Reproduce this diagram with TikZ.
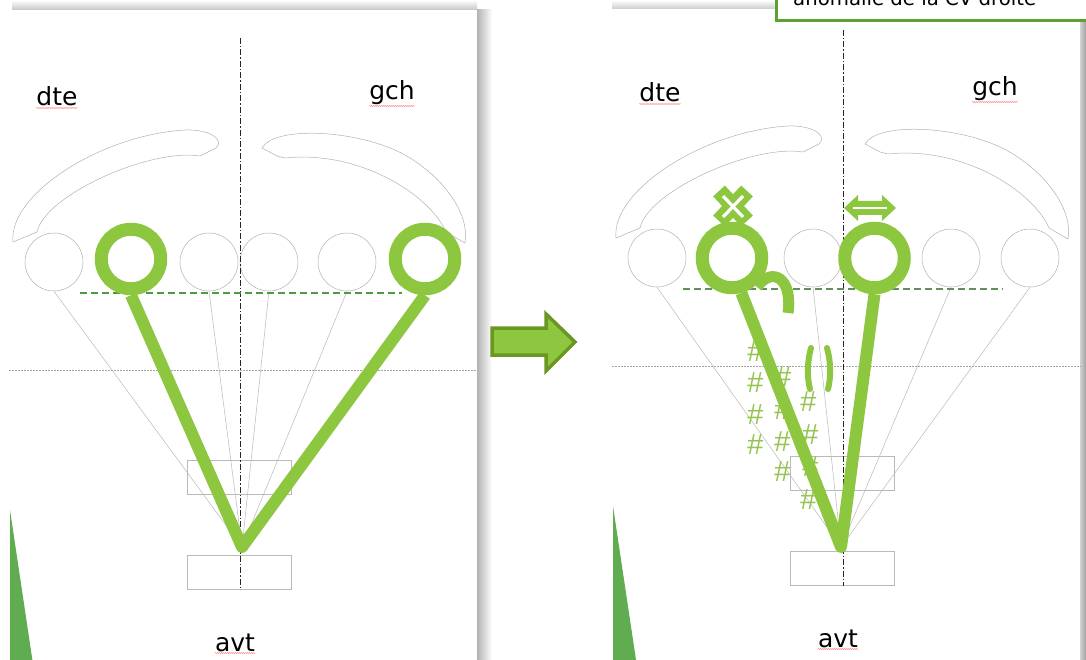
\documentclass[tikz,border=0pt]{standalone}
\usepackage{fontspec}
\setmainfont{DejaVu Sans}
\newfontfamily\hashfont{Liberation Sans}
\usetikzlibrary{decorations.pathmorphing}
\definecolor{lgreen}{RGB}{141,198,63}
\definecolor{dgreen}{RGB}{78,154,62}
\definecolor{trigreen}{RGB}{95,173,80}
\definecolor{arrowedge}{RGB}{106,150,34}
\definecolor{hashgreen}{RGB}{150,196,80}
\definecolor{boxgreen}{RGB}{93,161,48}
\definecolor{fangray}{RGB}{185,185,185}
\tikzset{
  thincirc/.style={circle, draw=gray!60, line width=0.5pt, minimum size=58pt, inner sep=0pt},
  ring/.style={circle, draw=lgreen, line width=13pt, minimum size=59.5pt, inner sep=0pt},
  fanline/.style={draw=fangray, line width=0.5pt},
  gstroke/.style={draw=lgreen, line width=12pt, line join=round},
  lbl/.style={font=\fontsize{25}{28}\selectfont, inner sep=0pt, anchor=base},
  axisline/.style={draw=gray!30!black, line width=0.8pt, dash pattern=on 6pt off 2pt on 1.5pt off 2pt},
  hdotted/.style={draw=gray!70, line width=0.6pt, dash pattern=on 1.5pt off 1.5pt},
  framebox/.style={draw=gray!55, line width=0.5pt},
  crescent/.style={draw=gray!60, line width=0.5pt},
  hashmark/.style={text=hashgreen, font=\hashfont\itshape\fontsize{29}{29}\selectfont, inner sep=0pt},
  spell/.style={draw=red!45, line width=0.5pt, decorate, decoration={snake, amplitude=0.5pt, segment length=2pt}},
  gdash/.style={line width=1.8pt, dash pattern=on 7pt off 4pt},
}
\newcommand\paneldecor[1]{%
  % crescents
  \draw[crescent] (13,242) .. controls (8,195) and (100,135) .. (185,130)
     .. controls (210,129) and (225,140) .. (216,148) -- (200,156)
     .. controls (150,148) and (45,195) .. (37,232) -- cycle;
  \draw[crescent] (262,148) .. controls (275,125) and (360,130) .. (405,155)
     .. controls (445,178) and (470,215) .. (465,243) -- (446,232)
     .. controls (430,195) and (360,150) .. (285,158) -- (277,156) -- cycle;
  % horizontal dotted line
  \draw[hdotted] (9,370) -- (478,370);
  % boxes
  \draw[framebox] (187,460) rectangle (291,494);
  \draw[framebox] (187,555) rectangle (291,589);
  % green wedge
  \fill[trigreen] (10,510) -- (10,664) -- (33,664) -- cycle;
  % labels
  \node[lbl] (#1dte) at (57,106) {dte};
  \node[lbl] (#1gch) at (392,100) {gch};
  \node[lbl] (#1avt) at (235,651) {avt};
  \draw[spell] ([yshift=-2pt]#1dte.base west) -- ([yshift=-2pt]#1dte.base east);
  \draw[spell] ([yshift=-6pt]#1gch.base west) -- ([yshift=-6pt]#1gch.base east);
  \draw[spell] ([yshift=-2pt]#1avt.base west) -- ([yshift=-2pt]#1avt.base east);
}
\begin{document}
\begin{tikzpicture}[x=1pt,y=-1pt]
\useasboundingbox (0,0) rectangle (1086,660);
\clip (0,0) rectangle (1086,660);
\fill[white] (0,0) rectangle (1086,660);

% ---------- page shadows ----------
\shade[top color=white, bottom color=gray!45] (12,0) rectangle (477,10);
\shade[left color=gray!60, right color=white] (477,10) rectangle (492,660);
\shade[top color=white, bottom color=gray!40] (612,0) rectangle (775,9);
\shade[left color=gray!35, right color=gray!75] (1080,22) rectangle (1086,660);

% ================= LEFT PANEL =================
\begin{scope}
  \paneldecor{L}
\end{scope}
\coordinate (apexL) at (242,547);
\node[thincirc] (cL1) at (54,262) {};
\node[thincirc] (cL3) at (209,262) {};
\node[thincirc] (cL4) at (269,262) {};
\node[thincirc] (cL5) at (347,262) {};
\foreach \c in {cL1,cL3,cL4,cL5} \draw[fanline] (\c.south) -- (apexL);
\draw[axisline] (240,38) -- (240,590);
\draw[dgreen, gdash] (80,293) -- (402,293);
\node[ring] (rL1) at (131,259) {};
\node[ring] (rL2) at (425,259) {};
\draw[gstroke] (rL1.south) -- (apexL) -- (rL2.south);

% ---------- middle arrow ----------
\draw[draw=arrowedge, fill=lgreen, line width=3.5pt, line join=miter]
  (492,328) -- (546,328) -- (546,314) -- (575,342) -- (546,371) -- (546,355) -- (492,355) -- cycle;

% ================= RIGHT PANEL =================
\begin{scope}[shift={(603,-4)}]
  \paneldecor{R}
\end{scope}
\coordinate (apexR) at (841,547);
\node[thincirc] (cR1) at (657,258) {};
\node[thincirc] (cR3) at (813,258) {};
\node[thincirc] (cR5) at (951,258) {};
\node[thincirc] (cR6) at (1030,258) {};
\foreach \c in {cR1,cR3,cR5,cR6} \draw[fanline] (\c.south) -- (apexR);
\draw[axisline] (843,30) -- (843,586);
\draw[gray!45!dgreen, gdash] (683,289) -- (1003,289);

% hash marks
\foreach \p [count=\i] in {(755,352),(755,383),(783,377),(808,402),(755,415),(782,410),
                           (810,435),(755,445),(782,442),(782,472),(810,467),(808,500)}
  \node[hashmark] (h\i) at \p {\#};

% parentheses marks
\draw[lgreen, line width=6pt, line cap=round] (811,348) .. controls (807,362) and (807,378) .. (810,389);
\draw[lgreen, line width=6pt, line cap=round] (827,348) .. controls (831,362) and (831,378) .. (828,389);

\node[ring] (rR1) at (732,258) {};
\node[ring] (rR2) at (874.5,258) {};
\draw[gstroke] (rR1.285) -- (apexR) -- (rR2.south);

% hook
\draw[lgreen, line width=11pt] (757,287) .. controls (772,266) and (793,278) .. (788,313);

% X mark above left ring
\draw[lgreen, line width=16pt] (719,191) -- (747,221) (747,191) -- (719,221);
\draw[white, line width=3.2pt] (723,196) -- (743,217) (743,196) -- (723,217);

% double arrow above right ring
\fill[lgreen] (844,208) -- (858,195) -- (858,201) -- (882,201) -- (882,195) -- (896,208)
  -- (882,221) -- (882,215) -- (858,215) -- (858,221) -- cycle;
\draw[white, line width=2.5pt] (853,208) -- (887,208);

% ---------- text box ----------
\node[draw=boxgreen, fill=white, line width=3pt, anchor=south west, minimum width=340pt,
      minimum height=45pt, inner sep=0pt] (box) at (775,22) {};
\node[font=\fontsize{19.7}{22}\selectfont, anchor=base west, inner sep=0pt] (boxtext) at (793,6)
  {anomalie de la CV droite};
\end{tikzpicture}
\end{document}
